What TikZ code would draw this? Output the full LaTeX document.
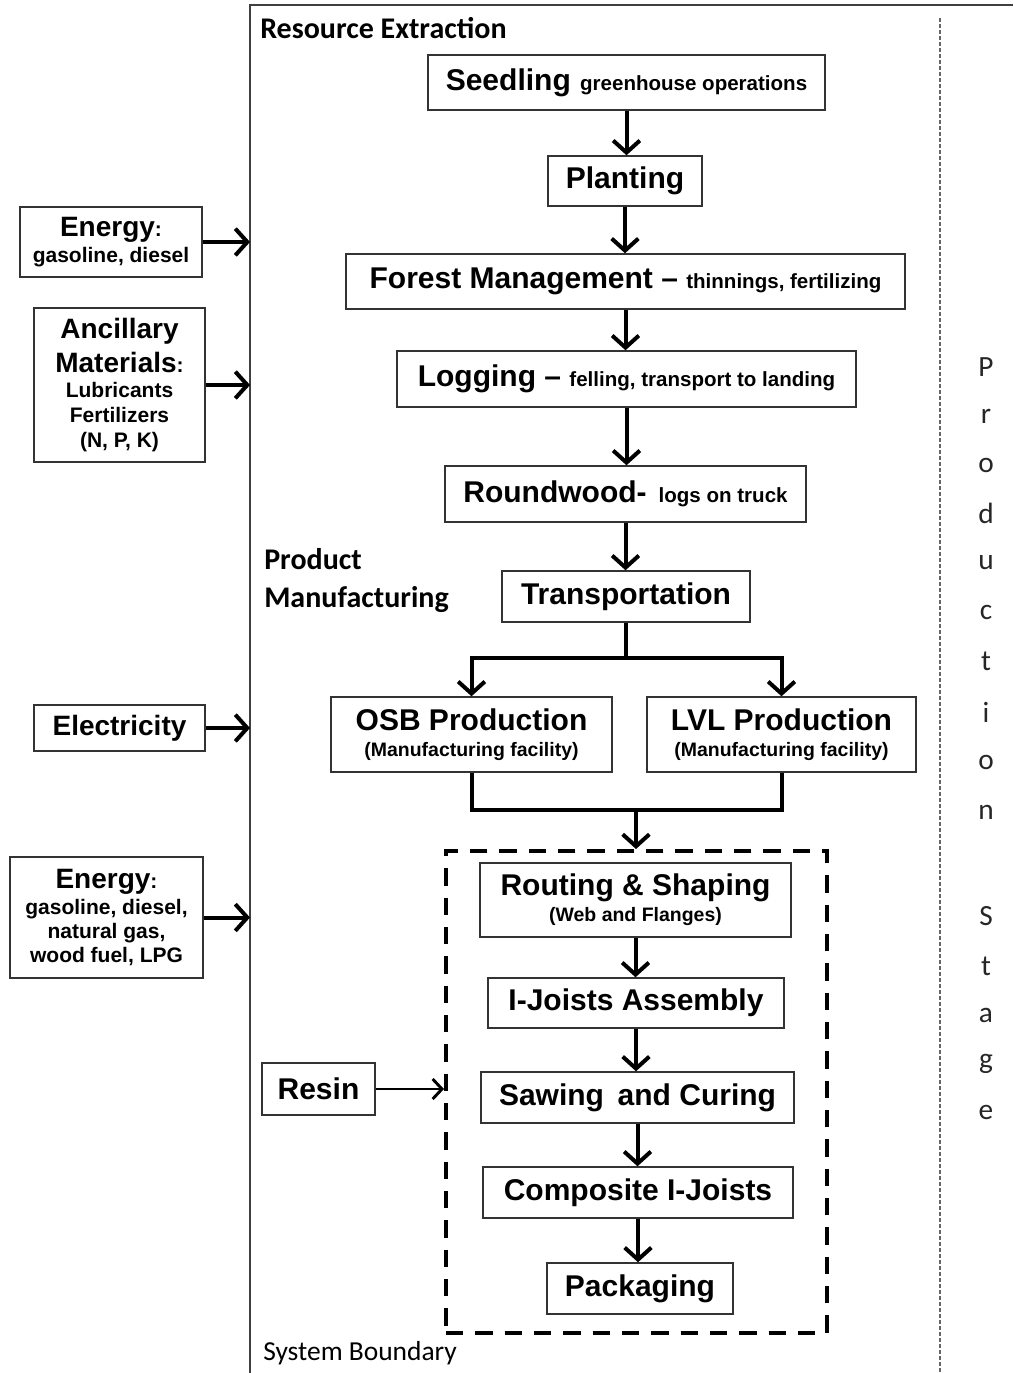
\documentclass[tikz,border=0pt]{standalone}
\usepackage{fontspec}
\setmainfont{Liberation Sans}
\newfontfamily\calfont{Carlito}
\usetikzlibrary{arrows.meta}
\newcommand\FzBig{\fontsize{22.5}{26}\selectfont}
\newcommand\FzSub{\fontsize{15.4}{18}\selectfont}
\newcommand\FzPar{\fontsize{14.6}{16}\selectfont}
\newcommand\FzLB{\fontsize{21}{24}\selectfont}
\newcommand\FzLS{\fontsize{15.75}{18}\selectfont}
\begin{document}
\begin{tikzpicture}[x=0.75pt,y=-0.75pt,
  box/.style={draw=black!80, line width=1.1pt, inner sep=0pt, align=center, font=\bfseries\FzBig},
  arr/.style={line width=3pt, -{Straight Barb[length=9pt,width=20pt]}},
  thinarr/.style={line width=2.2pt, -{Straight Barb[length=7pt,width=15pt]}},
  ln/.style={line width=3pt},
  lbl/.style={inner sep=0pt, anchor=west, font=\calfont\bfseries\fontsize{22.5}{28.5}\selectfont, align=left},
  stage/.style={inner sep=0pt, font=\calfont\fontsize{22}{24}\selectfont, text=black!85},
]
\useasboundingbox (0,0) rectangle (1013,1373);
\fill[white] (0,0) rectangle (1013,1373);

% frame and stage line
\draw[line width=1.6pt, black!75] (250,1373) -- (250,5) -- (1013,5);
\draw[line width=0.9pt, black!60, dash pattern=on 3pt off 1.5pt] (940,18) -- (940,1373);
\coordinate (fx) at (250,0);

% section labels
\node[lbl] (resext) at (260,28) {Resource Extraction};
\node[lbl] (prodman) at (264,581) {Product\\Manufacturing};
\node[lbl, font=\calfont\fontsize{20.6}{24}\selectfont] (sysb) at (263,1353) {System Boundary};

% vertical stage text
\foreach \ch/\yy [count=\i] in {P/367, r/416, o/465, d/513, u/563, c/612, t/661, i/712, o/762, n/812, S/916, t/966, a/1015, g/1064, e/1112}
  \node[stage] (ps\i) at (986,\yy) {\ch};

% main chain
\node[box, minimum width=297.75pt, minimum height=41.25pt] (seed) at (626.5,82.5)
  {Seedling\hspace{7pt}{\FzSub greenhouse operations}};
\node[box, minimum width=115.5pt, minimum height=37.5pt] (plant) at (625,181) {Planting};
\node[box, minimum width=419.25pt, minimum height=41.25pt] (forest) at (625.5,281.5)
  {Forest Management -- {\FzSub thinnings, fertilizing}};
\node[box, minimum width=344.25pt, minimum height=42pt] (log) at (626.5,379)
  {Logging -- {\FzSub felling, transport to landing}};
\node[box, minimum width=270.75pt, minimum height=42pt] (round) at (625.5,494)
  {Roundwood-\hspace{9pt}{\FzSub logs on truck}};
\node[box, minimum width=186pt, minimum height=38.25pt] (trans) at (626,596.5) {Transportation};

\node[box, minimum width=210.75pt, minimum height=56.25pt, font=\bfseries\fontsize{14.6}{19.5}\selectfont] (osb) at (471.5,734.5)
  {{\FzBig OSB Production}\\{\FzPar (Manufacturing facility)}};
\node[box, minimum width=201.75pt, minimum height=56.25pt, font=\bfseries\fontsize{14.6}{19.5}\selectfont] (lvl) at (781.5,734.5)
  {{\FzBig LVL Production}\\{\FzPar (Manufacturing facility)}};

% process box
\node[draw, line width=3pt, dash pattern=on 13pt off 9pt, minimum width=285.75pt, minimum height=361.5pt, inner sep=0pt] (pbox) at (636.5,1092) {};
\node[box, minimum width=233.25pt, minimum height=55.5pt, font=\bfseries\fontsize{14.6}{19.5}\selectfont] (rout) at (635.5,900)
  {{\FzBig Routing \& Shaping}\\{\FzPar (Web and Flanges)}};
\node[box, minimum width=222pt, minimum height=37.5pt] (ijoist) at (636,1003) {I-Joists Assembly};
\node[box, minimum width=234.75pt, minimum height=38.25pt] (saw) at (637.5,1097.5) {Sawing\hspace{4pt} and Curing};
\node[box, minimum width=232.5pt, minimum height=38.25pt] (comp) at (638,1192.5) {Composite I-Joists};
\node[box, minimum width=139.5pt, minimum height=38.25pt] (pack) at (640,1288.5) {Packaging};

% inputs
\node[box, minimum width=136.5pt, minimum height=52.5pt, font=\bfseries\fontsize{15.75}{19.5}\selectfont] (en1) at (111,242)
  {{\FzLB Energy}:\\gasoline, diesel};
\node[box, minimum width=128.25pt, minimum height=115.5pt, font=\bfseries\fontsize{15.75}{18.75}\selectfont] (anc) at (119.5,385)
  {{\FzLB Ancillary}\\[5pt]{\FzLB Materials}:\\[-0.5pt]Lubricants\\Fertilizers\\(N, P, K)};
\node[box, minimum width=128.25pt, minimum height=34.5pt, font=\bfseries\FzLB] (elec) at (119.5,728) {Electricity};
\node[box, minimum width=144.75pt, minimum height=90.75pt, font=\bfseries\fontsize{15.75}{18}\selectfont] (en2) at (106.5,917.5)
  {{\FzLB Energy}:\\[1.5pt]gasoline, diesel,\\natural gas,\\wood fuel, LPG};
\node[box, minimum width=84.75pt, minimum height=39pt] (resin) at (318.5,1089) {Resin};

% chain arrows
\draw[arr] (seed.south) -- (seed.south |- plant.north);
\draw[arr] (plant.south) -- (plant.south |- forest.north);
\draw[arr] (forest.south) -- (forest.south |- log.north);
\draw[arr] (log.south) -- (log.south |- round.north);
\draw[arr] (round.south) -- (round.south |- trans.north);

\coordinate (split) at (626,658);
\draw[ln] (trans.south) -- (trans.south |- split);
\draw[ln] ([xshift=-1.5pt]osb.north |- split) -- ([xshift=1.5pt]lvl.north |- split);
\draw[arr] (osb.north |- split) -- (osb.north);
\draw[arr] (lvl.north |- split) -- (lvl.north);

\coordinate (merge) at (636,810);
\draw[ln, line join=miter] (osb.south) -- (osb.south |- merge) -- (lvl.south |- merge) -- (lvl.south);
\draw[arr] (merge) -- (merge |- pbox.north);

\draw[arr] (rout.south) -- (rout.south |- ijoist.north);
\draw[arr] (ijoist.south) -- (ijoist.south |- saw.north);
\draw[arr] (saw.south) -- (saw.south |- comp.north);
\draw[arr] (comp.south) -- (comp.south |- pack.north);

% input arrows
\draw[arr] (en1.east) -- (en1.east -| fx);
\draw[arr] (anc.east) -- (anc.east -| fx);
\draw[arr] (elec.east) -- (elec.east -| fx);
\draw[arr] (en2.east) -- (en2.east -| fx);
\draw[thinarr] (resin.east) -- (resin.east -| pbox.west);
\end{tikzpicture}
\end{document}
